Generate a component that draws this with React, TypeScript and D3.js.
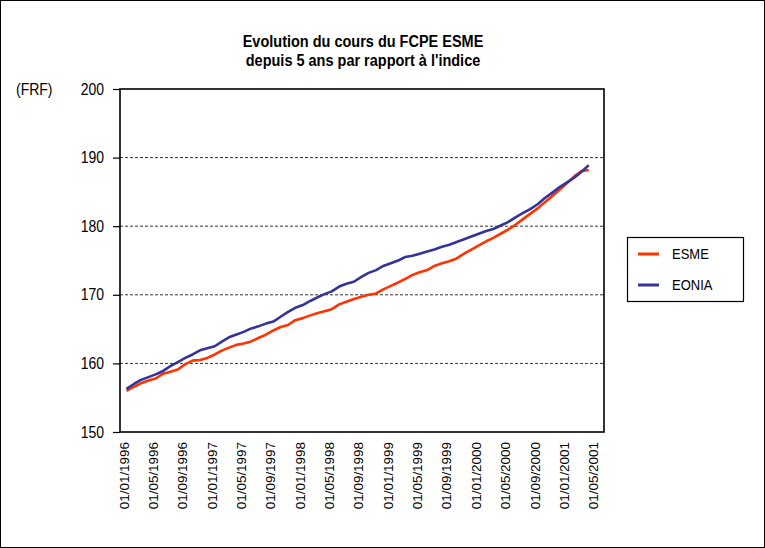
//@ts-nocheck
import React, { useRef, useEffect } from 'react'
import * as d3 from 'd3'

// monthly values, 01/1996 .. 04/2001
const startMonth = new Date(1996, 0, 1)
const esme = [
  156.0, 156.6, 157.1, 157.5, 157.8, 158.5, 158.8, 159.1, 159.9, 160.4, 160.5, 160.8,
  161.3, 161.9, 162.3, 162.7, 162.9, 163.2, 163.7, 164.2, 164.8, 165.3, 165.6, 166.3,
  166.6, 167.0, 167.3, 167.6, 167.9, 168.6, 169.0, 169.4, 169.7, 170.0, 170.2, 170.8,
  171.3, 171.8, 172.3, 172.9, 173.3, 173.6, 174.2, 174.6, 174.9, 175.3, 176.0, 176.6,
  177.2, 177.8, 178.3, 178.9, 179.5, 180.2, 181.0, 181.8, 182.6, 183.5, 184.4, 185.3,
  186.3, 187.3, 188.0, 188.2
]
const eonia = [
  156.3, 157.0, 157.6, 158.0, 158.4, 158.9, 159.6, 160.2, 160.8, 161.3, 161.9, 162.2,
  162.5, 163.2, 163.8, 164.2, 164.6, 165.1, 165.4, 165.8, 166.1, 166.8, 167.5, 168.1,
  168.5, 169.1, 169.6, 170.1, 170.5, 171.2, 171.6, 171.9, 172.6, 173.2, 173.6, 174.2,
  174.6, 175.0, 175.5, 175.7, 176.0, 176.3, 176.6, 177.0, 177.3, 177.7, 178.1, 178.5,
  178.9, 179.3, 179.6, 180.1, 180.6, 181.3, 181.9, 182.5, 183.2, 184.1, 184.9, 185.7,
  186.4, 187.1, 187.9, 188.9
]
const yTicks = [150, 160, 170, 180, 190, 200]
const gridTicks = [160, 170, 180, 190]
const tickDates = d3.timeMonth.every(4).range(new Date(1996, 0, 1), new Date(2001, 5, 1))
const series = [
  { name: 'ESME', values: esme, color: '#ff3300' },
  { name: 'EONIA', values: eonia, color: '#333399' }
]

const W = 765
const H = 548
const plot = { left: 120, right: 604, top: 89, bottom: 432 }
const font = "Arial, 'Liberation Sans', sans-serif"

export default function App() {
  const node = useRef(null)

  useEffect(() => {
    const svg = d3.select(node.current)
    svg.selectAll('*').remove()

    const x = d3
      .scaleTime()
      .domain([new Date(1996, 0, 1), new Date(2001, 4, 1)])
      .range([126.5, 596])
    const y = d3.scaleLinear().domain([150, 200]).range([plot.bottom, plot.top])

    svg.append('rect').attr('x', 0.5).attr('y', 0.5).attr('width', W - 1).attr('height', H - 1)
      .attr('fill', '#fff').attr('stroke', '#000').attr('stroke-width', 1)

    // title
    const title = ['Evolution du cours du FCPE ESME', "depuis 5 ans par rapport à l'indice"]
    title.forEach((t, i) => {
      svg.append('text')
        .attr('transform', `translate(363,${47 + i * 19}) scale(1,1.2)`)
        .attr('text-anchor', 'middle')
        .attr('font-family', font)
        .attr('font-weight', 'bold')
        .attr('font-size', 14.5)
        .text(t)
    })

    svg.append('text')
      .attr('transform', 'translate(16,95) scale(1,1.15)')
      .attr('font-family', font)
      .attr('font-size', 14)
      .text('(FRF)')

    // grid
    svg.append('g')
      .selectAll('line')
      .data(gridTicks)
      .join('line')
      .attr('x1', plot.left)
      .attr('x2', plot.right)
      .attr('y1', (d) => y(d))
      .attr('y2', (d) => y(d))
      .attr('stroke', '#333')
      .attr('stroke-width', 1)
      .attr('stroke-dasharray', '3,2')

    // y axis
    const yAxis = svg.append('g')
      .attr('transform', `translate(${plot.left},0)`)
      .call(d3.axisLeft(y).tickValues(yTicks).tickSize(7).tickSizeOuter(0).tickPadding(9))
    yAxis.select('.domain').remove()
    yAxis.selectAll('line').attr('stroke', '#000').attr('stroke-width', 1.2)
    yAxis.selectAll('text')
      .attr('font-family', font)
      .attr('font-size', 14)
      .attr('fill', '#000')
      .attr('transform', 'scale(1,1.12)')

    // x labels
    svg.append('g')
      .selectAll('text')
      .data(tickDates)
      .join('text')
      .attr('transform', (d) => `translate(${x(d) + 2},442) rotate(-90) scale(1.12,1)`)
      .attr('text-anchor', 'end')
      .attr('font-family', font)
      .attr('font-size', 12)
      .text((d) => d3.timeFormat('%d/%m/%Y')(d))

    // lines
    const line = d3
      .line()
      .x((d, i) => x(d3.timeMonth.offset(startMonth, i)))
      .y((d) => y(d))
    series.forEach((s) => {
      svg.append('path')
        .attr('d', line(s.values))
        .attr('fill', 'none')
        .attr('stroke', s.color)
        .attr('stroke-width', 2.6)
        .attr('stroke-linejoin', 'round')
    })

    // plot frame
    svg.append('rect')
      .attr('x', plot.left)
      .attr('y', plot.top)
      .attr('width', plot.right - plot.left)
      .attr('height', plot.bottom - plot.top)
      .attr('fill', 'none')
      .attr('stroke', '#000')
      .attr('stroke-width', 1.6)

    // legend
    const lg = svg.append('g').attr('transform', 'translate(627,237)')
    lg.append('rect').attr('x', 0.5).attr('y', 0.5).attr('width', 116).attr('height', 64)
      .attr('fill', '#fff').attr('stroke', '#000').attr('stroke-width', 1.2)
    series.forEach((s, i) => {
      const cy = 17 + i * 31
      lg.append('line').attr('x1', 11).attr('x2', 32).attr('y1', cy).attr('y2', cy)
        .attr('stroke', s.color).attr('stroke-width', 3)
      lg.append('text')
        .attr('transform', `translate(45,${cy + 5.3}) scale(1,1.15)`)
        .attr('font-family', font)
        .attr('font-size', 13)
        .text(s.name)
    })
  }, [])

  return <svg ref={node} width={W} height={H} style={{ position: 'absolute', left: 0, top: 0 }}></svg>
}
